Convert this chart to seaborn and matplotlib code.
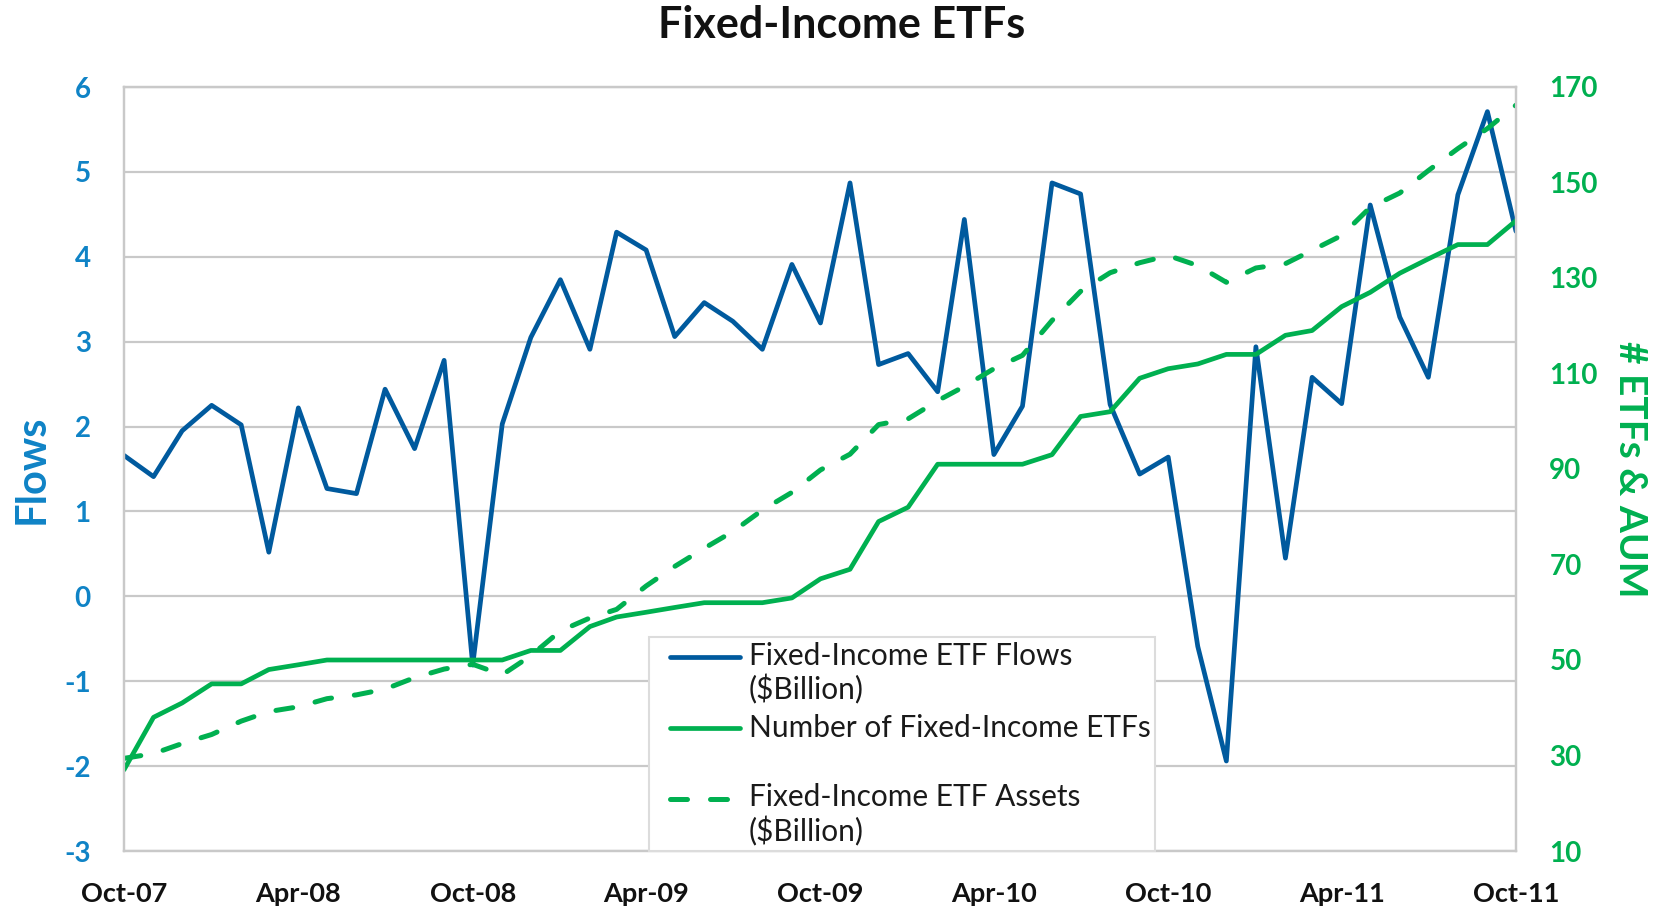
import matplotlib
matplotlib.use("Agg")
import matplotlib.pyplot as plt
import matplotlib.dates as mdates
import numpy as np
import pandas as pd
import seaborn as sns

# monthly data, Oct-07 .. Oct-11
months = pd.date_range("2007-10-01", periods=49, freq="MS")

flows = [1.66, 1.41, 1.95, 2.25, 2.02, 0.52, 2.22, 1.27, 1.21, 2.44,
         1.74, 2.78, -0.81, 2.03, 3.05, 3.73, 2.91, 4.29, 4.08, 3.06,
         3.46, 3.24, 2.91, 3.91, 3.22, 4.87, 2.73, 2.86, 2.41, 4.44,
         1.67, 2.24, 4.87, 4.74, 2.26, 1.44, 1.64, -0.59, -1.94, 2.94,
         0.45, 2.58, 2.27, 4.61, 3.29, 2.58, 4.73, 5.71, 4.30]

n_etfs = [27, 38, 41, 45, 45, 48, 49, 50, 50, 50,
          50, 50, 50, 50, 52, 52, 57, 59, 60, 61,
          62, 62, 62, 63, 67, 69, 79, 82, 91, 91,
          91, 91, 93, 101, 102, 109, 111, 112, 114, 114,
          118, 119, 124, 127, 131, 134, 137, 137, 142]

assets = [29.4, 30.4, 32.5, 34.4, 37.2, 39.2, 40.2, 41.9, 42.7, 43.9,
          46.3, 48.1, 49.1, 46.9, 50.9, 56.1, 58.8, 60.6, 65.5, 69.6,
          73.4, 76.9, 81.4, 85.1, 89.8, 93.1, 99.3, 100.5, 104.3, 107.3,
          111.0, 113.8, 121.1, 127.2, 131.1, 133.2, 134.7, 132.6, 129.1, 132.1,
          133.0, 135.8, 138.9, 144.8, 147.8, 152.5, 157.1, 161.3, 166.2]

left_ticks = list(range(-3, 7))
right_ticks = list(range(10, 171, 20))

BLUE = "#005A9E"
LBLUE = "#0F83C6"
GREEN = "#00B050"
GRID = "#C9C9C9"

sns.set_theme(style="white")
plt.rcParams["font.family"] = ["Lato", "DejaVu Sans"]
plt.rcParams["axes.unicode_minus"] = False

df = pd.DataFrame({"month": months, "flows": flows, "n_etfs": n_etfs, "assets": assets})

fig = plt.figure(figsize=(16.58, 9.08), dpi=100)
ax = fig.add_axes([124 / 1658, 1 - 851 / 908, (1516 - 124) / 1658, (851 - 87) / 908])
ax2 = ax.twinx()

sns.lineplot(data=df, x="month", y="flows", color=BLUE, lw=3.4, ax=ax,
             label="Fixed-Income ETF Flows\n($Billion)", legend=False)
sns.lineplot(data=df, x="month", y="n_etfs", color=GREEN, lw=3.4, ax=ax2,
             label="Number of Fixed-Income ETFs\n", legend=False)
sns.lineplot(data=df, x="month", y="assets", color=GREEN, lw=3.6, ax=ax2,
             label="Fixed-Income ETF Assets\n($Billion)", legend=False)
ax2.lines[1].set_dashes((3.4, 4.6))
ax2.lines[1].set_dash_capstyle("round")

ax.set_xlim(months[0], months[-1])
ax.set_ylim(-3, 6)
ax.set_yticks(left_ticks)
ax2.set_ylim(10, 170)
ax2.set_yticks(right_ticks)

ax.xaxis.set_major_locator(mdates.MonthLocator(bymonth=[4, 10]))
ax.xaxis.set_major_formatter(mdates.DateFormatter("%b-%y"))

ax.grid(axis="y", color=GRID, lw=1.6)
ax.grid(axis="x", visible=False)
ax2.grid(False)
for a in (ax, ax2):
    for s in a.spines.values():
        s.set_color(GRID)
        s.set_linewidth(1.6)

ax.tick_params(axis="x", length=0, pad=22, labelsize=19.5, labelcolor="#111111")
ax.tick_params(axis="y", length=0, pad=24, labelsize=20, labelcolor=LBLUE)
ax2.tick_params(axis="y", length=0, pad=24, labelsize=20, labelcolor=GREEN)
for lab in ax.get_xticklabels() + ax.get_yticklabels() + ax2.get_yticklabels():
    lab.set_fontweight("bold")

ax.set_xlabel("")
ax.set_ylabel("Flows", color=LBLUE, fontsize=30, fontweight="bold", labelpad=10)
ax2.set_ylabel("# ETFs & AUM", color=GREEN, fontsize=28, fontweight="bold",
               rotation=270, labelpad=36)

fig.suptitle("Fixed-Income ETFs", x=842 / 1658, y=1 - 25 / 908, va="center",
             fontsize=31, fontweight="bold", color="#111111")

handles = ax.get_lines()[:1] + ax2.get_lines()[:2]
labels = [h.get_label() for h in handles]
leg = ax2.legend(handles, labels, loc="lower left",
                 bbox_to_anchor=(649 / 1658, 1 - 851 / 908), bbox_transform=fig.transFigure,
                 fontsize=21.5, frameon=True, fancybox=False, framealpha=1,
                 edgecolor="#DCDCDC", handlelength=2.9, handletextpad=0.3,
                 labelspacing=0.3, borderpad=0.15, borderaxespad=0)
leg.get_frame().set_linewidth(1.5)
for t in leg.get_texts():
    t.set_color("#1A1A1A")
    t.set_linespacing(1.2)
# push the legend keys to the first text line and indent them a little
for h in leg.legend_handles:
    x = np.asarray(h.get_xdata(), dtype=float)
    y = np.asarray(h.get_ydata(), dtype=float)
    h.set_xdata(np.linspace(x[0] + 0.55 * 21.5, x[-1], len(x)))
    h.set_ydata(y + 0.58 * 21.5)

fig.savefig("out.png", dpi=100)
plt.close(fig)
